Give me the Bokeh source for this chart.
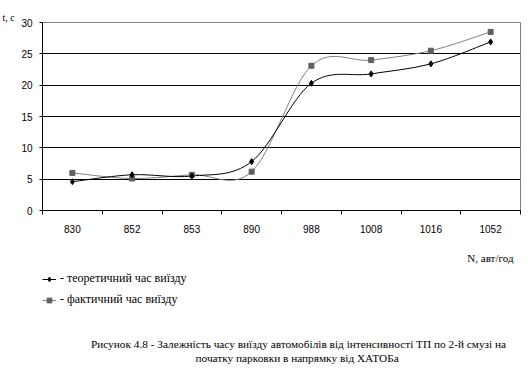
import numpy as np
from bokeh.plotting import figure
from bokeh.layouts import column
from bokeh.models import Range1d, FixedTicker, Title, Label, Legend, LegendItem, ColumnDataSource
from bokeh.embed import file_html
from bokeh.resources import INLINE

# ---- data ----
categories = ["830", "852", "853", "890", "988", "1008", "1016", "1052"]
theoretical = [4.6, 5.7, 5.5, 7.8, 20.3, 21.8, 23.4, 26.9]
actual = [6.0, 5.1, 5.7, 6.2, 23.1, 24.0, 25.5, 28.5]
y_ticks = [0, 5, 10, 15, 20, 25, 30]
series_names = ["- теоретичний час виїзду", "- фактичний час виїзду"]
x_title = "N, авт/год"
y_title = "t, c"
caption = ["Рисунок 4.8 - Залежність часу виїзду автомобілів від інтенсивності ТП по 2-й смузі на",
           "початку парковки в  напрямку від ХАТОБа"]

# ---- layout (page pixels, canvas starts at 0,0) ----
W = 526
HA, HB = 240, 129
FL, FR, FT, FB = 42, 520, 22, 210          # chart frame edges on the page
n = len(categories)
xs = [i + 0.5 for i in range(n)]
serif = "Liberation Serif"
col_t, col_a, mark_a = "black", "#808080", "#606060"


def smooth_source(x, y, t=1.0 / 6.0):
    m = len(x)
    d = dict(x0=[], y0=[], x1=[], y1=[], cx0=[], cy0=[], cx1=[], cy1=[])
    for i in range(m - 1):
        a, b = max(i - 1, 0), min(i + 2, m - 1)
        d["x0"].append(x[i]); d["y0"].append(y[i])
        d["x1"].append(x[i + 1]); d["y1"].append(y[i + 1])
        d["cx0"].append(x[i] + (x[i + 1] - x[a]) * t)
        d["cy0"].append(y[i] + (y[i + 1] - y[a]) * t)
        d["cx1"].append(x[i + 1] - (x[b] - x[i]) * t)
        d["cy1"].append(y[i + 1] - (y[b] - y[i]) * t)
    return ColumnDataSource(d)


# ================= chart =================
p = figure(width=W, height=HA, output_backend="svg", toolbar_location=None,
           x_range=Range1d(0, n), y_range=Range1d(0, 30),
           min_border_left=FL, min_border_right=W - FR, min_border_top=FT,
           min_border_bottom=HA - FB,
           background_fill_color="white", border_fill_color="white")
p.outline_line_color = "#808080"

p.xgrid.visible = False
p.ygrid.ticker = FixedTicker(ticks=y_ticks[1:-1])
p.ygrid.grid_line_color = "black"
p.ygrid.grid_line_width = 1

p.xaxis.ticker = FixedTicker(ticks=xs, minor_ticks=list(range(n + 1)))
p.xaxis.major_label_overrides = {x: c for x, c in zip(xs, categories)}
p.xaxis.major_tick_line_color = None
p.xaxis.major_tick_out = 0
p.xaxis.major_tick_in = 0
p.xaxis.minor_tick_out = 4
p.xaxis.minor_tick_in = 0
p.xaxis.minor_tick_line_color = "black"
p.xaxis.major_label_standoff = 10
p.yaxis.ticker = FixedTicker(ticks=y_ticks)
p.yaxis.major_tick_out = 3
p.yaxis.major_tick_in = 0
p.yaxis.minor_tick_line_color = None
p.yaxis.major_label_standoff = 7
for ax in (p.xaxis, p.yaxis):
    ax.axis_line_color = "black"
    ax.major_label_text_font = "Liberation Sans"
    ax.major_label_text_font_size = "10px"
    ax.major_label_text_color = "black"

src_t = smooth_source(xs, theoretical)
src_a = smooth_source(xs, actual)
bez = dict(x0="x0", y0="y0", x1="x1", y1="y1", cx0="cx0", cy0="cy0", cx1="cx1", cy1="cy1")
p.bezier(source=src_a, line_color=col_a, line_width=1, **bez)
p.bezier(source=src_t, line_color=col_t, line_width=1, **bez)
p.scatter(xs, actual, marker="square", size=5, fill_color=mark_a, line_color=mark_a)
p.scatter(xs, theoretical, marker="diamond", size=6, fill_color=col_t, line_color=col_t)

p.add_layout(Title(text=y_title, align="left", offset=-40, standoff=0,
                   text_font=serif, text_font_size="10px", text_font_style="normal",
                   text_color="black"), "above")

# ================= legend + captions =================
q = figure(width=W, height=HB, output_backend="svg", toolbar_location=None,
           x_range=Range1d(0, FR - FL), y_range=Range1d(0, HB),
           x_axis_location=None, y_axis_location=None,
           min_border_left=FL, min_border_right=W - FR, min_border_top=0, min_border_bottom=0,
           background_fill_color="white", border_fill_color="white")
q.grid.visible = False
q.outline_line_color = None
# the series again on a range far out of view: only their legend samples show
q.extra_y_ranges = {"off": Range1d(1000, 2000)}
lt = q.line(xs, theoretical, line_color=col_t, line_width=1, y_range_name="off")
mt = q.scatter(xs, theoretical, marker="diamond", size=6, fill_color=col_t, line_color=col_t,
               y_range_name="off")
la = q.line(xs, actual, line_color=col_a, line_width=1, y_range_name="off")
ma = q.scatter(xs, actual, marker="square", size=5, fill_color=mark_a, line_color=mark_a,
               y_range_name="off")

Y0 = HA + HB   # page y of the bottom of q


def qx(px):
    return px - FL


def qy(py):
    return Y0 - py


legend = Legend(items=[LegendItem(label=series_names[0], renderers=[lt, mt]),
                       LegendItem(label=series_names[1], renderers=[la, ma])],
                location=(qx(42), qy(307)), orientation="vertical",
                glyph_width=14, glyph_height=12, label_height=12, spacing=6,
                label_standoff=4, padding=0, margin=0,
                border_line_color=None, background_fill_alpha=0,
                label_text_font=serif, label_text_font_size="12px",
                label_text_color="black")
q.add_layout(legend)

q.add_layout(Label(x=qx(513), y=qy(257), text=x_title, text_font=serif, text_font_size="11px",
                   text_font_style="normal",
                   text_align="right", text_baseline="middle", text_color="black"))
for i, line in enumerate(caption):
    q.add_layout(Label(x=qx(298), y=qy(343 + 14 * i), text=line, text_font=serif,
                       text_font_size="11.3px", text_font_style="normal",
                       text_align="center", text_baseline="middle",
                       text_color="black"))

open("out.html", "w").write(file_html(column(p, q, spacing=0), INLINE))
